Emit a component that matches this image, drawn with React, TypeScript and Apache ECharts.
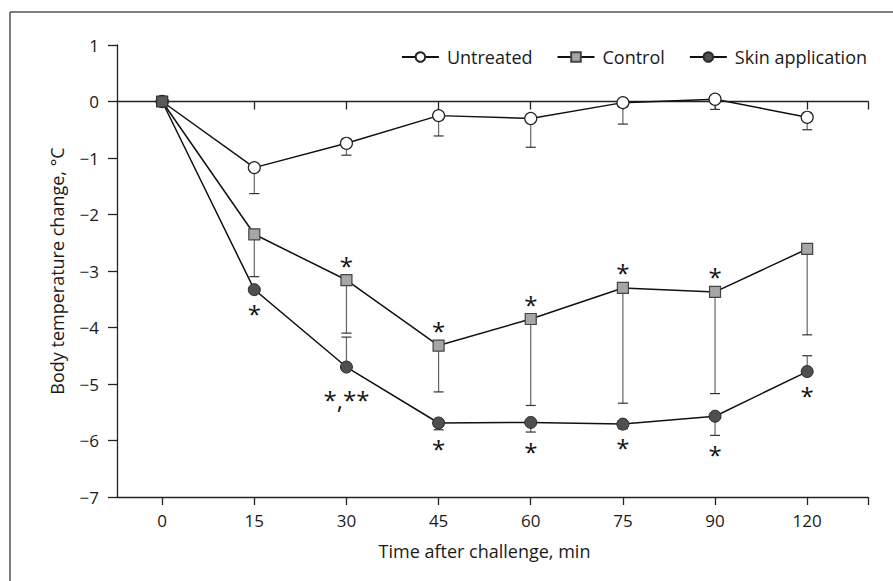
import React, { useEffect, useRef } from "react";
import * as echarts from "echarts";

const categories = ["0", "15", "30", "45", "60", "75", "90", "120"];
const untreated = [0, -1.17, -0.74, -0.25, -0.3, -0.02, 0.04, -0.28];
const control = [0, -2.35, -3.16, -4.32, -3.85, -3.3, -3.37, -2.61];
const skin = [0, -3.33, -4.7, -5.69, -5.68, -5.71, -5.57, -4.78];

// error bar ends (null = none visible)
const untreatedLow = [null, -1.63, -0.95, -0.61, -0.81, -0.4, -0.14, -0.5];
const controlLow = [null, -3.1, -4.1, -5.14, -5.38, -5.34, -5.17, -4.13];
const skinHigh = [null, null, -4.17, null, null, null, null, -4.5];
const skinLow = [null, null, null, -5.81, -5.85, -5.79, -5.91, null];

const controlMarks = ["", "", "*", "*", "*", "*", "*", ""];
const skinMarks = ["", "*", "*,**", "*", "*", "*", "*", "*"];

const yTicks = [-7, -6, -5, -4, -3, -2, -1, 0, 1];

const FONT = "'Open Sans', 'Noto Sans', sans-serif";
const TXT = "#1a1a1a";

export default function App() {
  const ref = useRef<HTMLDivElement>(null);
  useEffect(() => {
    if (!ref.current) return;
    const chart = echarts.init(ref.current, null, { renderer: "svg" });
    const idx = categories.map((_, i) => i);
    const xMin = -0.49;
    const xMax = 7.66;

    const errData: number[][] = [];
    const addErr = (vals: number[], ends: (number | null)[]) => {
      ends.forEach((e, i) => {
        if (e !== null) errData.push([i, vals[i], e]);
      });
    };
    addErr(untreated, untreatedLow);
    addErr(control, controlLow);
    addErr(skin, skinHigh);
    addErr(skin, skinLow);

    const marks: { i: number; anchor: number; dir: number; text: string }[] = [];
    controlMarks.forEach((t, i) => {
      if (t) marks.push({ i, anchor: control[i], dir: -1, text: t });
    });
    skinMarks.forEach((t, i) => {
      if (t) {
        const low = skinLow[i];
        marks.push({ i, anchor: low !== null ? Math.min(low, skin[i]) : skin[i], dir: low !== null ? 2 : 1, text: t });
      }
    });

    const fmtY = (v: number) => (v < 0 ? "\u2212" + Math.abs(v) : String(v));

    chart.setOption({
      animation: false,
      textStyle: { fontFamily: FONT },
      grid: { left: 117, right: 25, top: 45, bottom: 84 },
      legend: {
        data: ["Untreated", "Control", "Skin application"],
        right: 21,
        top: 43,
        itemWidth: 37,
        itemHeight: 12,
        itemGap: 24,
        textStyle: { fontSize: 18, color: TXT, fontFamily: FONT, padding: [0, 0, 0, 3] },
      },
      xAxis: [
        {
          type: "value",
          min: xMin,
          max: xMax,
          position: "bottom",
          axisLine: { onZero: false, lineStyle: { color: "#222", width: 1.3 } },
          axisTick: { show: true, length: 8, customValues: [...idx, xMax], lineStyle: { color: "#222", width: 1.3 } },
          axisLabel: {
            customValues: idx,
            formatter: (v: number) => categories[Math.round(v)],
            fontSize: 17,
            color: TXT,
            margin: 15,
            fontFamily: FONT,
          },
          splitLine: { show: false },
          name: "Time after challenge, min",
          nameLocation: "middle",
          nameGap: 45,
          nameTextStyle: { fontSize: 18, color: TXT, fontFamily: FONT, padding: [0, 16, 0, 0] },
        },
        {
          type: "value",
          min: xMin,
          max: xMax,
          position: "top",
          axisLine: { onZero: true, onZeroAxisIndex: 0, lineStyle: { color: "#222", width: 1.3 } },
          axisTick: { show: true, inside: true, length: 8, customValues: [...idx.slice(1), xMax], lineStyle: { color: "#222", width: 1.3 } },
          axisLabel: { show: false },
          splitLine: { show: false },
        },
      ],
      yAxis: {
        type: "value",
        min: -7,
        max: 1,
        interval: 1,
        axisLine: { show: true, onZero: false, lineStyle: { color: "#222", width: 1.3 } },
        axisTick: { show: true, length: 9, customValues: yTicks, lineStyle: { color: "#222", width: 1.3 } },
        axisLabel: { formatter: fmtY, fontSize: 17, color: TXT, margin: 18, fontFamily: FONT },
        splitLine: { show: false },
        name: "Body temperature change, \u00b0C",
        nameLocation: "middle",
        nameGap: 51,
        nameRotate: 90,
        nameTextStyle: { fontSize: 18, color: TXT, fontFamily: FONT },
      },
      graphic: [
        { type: "line", shape: { x1: 10, y1: 12, x2: 893, y2: 12 }, style: { stroke: "#555", lineWidth: 1.5 } },
        { type: "line", shape: { x1: 10, y1: 12, x2: 10, y2: 581 }, style: { stroke: "#555", lineWidth: 1.5 } },
      ],
      series: [
        {
          type: "custom",
          name: "errbars",
          xAxisIndex: 0,
          yAxisIndex: 0,
          z: 2,
          silent: true,
          encode: { x: 0, y: 1 },
          data: errData,
          renderItem: (params: any, api: any) => {
            const x = api.value(0);
            const p = api.coord([x, api.value(1)]);
            const q = api.coord([x, api.value(2)]);
            return {
              type: "group",
              children: [
                { type: "line", shape: { x1: p[0], y1: p[1], x2: q[0], y2: q[1] }, style: { stroke: "#666", lineWidth: 1.2 } },
                { type: "line", shape: { x1: q[0] - 5, y1: q[1], x2: q[0] + 5, y2: q[1] }, style: { stroke: "#333", lineWidth: 1.2 } },
              ],
            };
          },
        },
        {
          type: "line",
          name: "Untreated",
          z: 3,
          data: untreated.map((v, i) => [i, v]),
          symbol: "circle",
          symbolSize: 12,
          lineStyle: { color: "#111", width: 1.5 },
          itemStyle: { color: "#ffffff", borderColor: "#222", borderWidth: 1.2 },
        },
        {
          type: "line",
          name: "Skin application",
          z: 3,
          data: skin.map((v, i) => [i, v]),
          symbol: "circle",
          symbolSize: 12,
          lineStyle: { color: "#111", width: 1.5 },
          itemStyle: { color: "#4f4f4f", borderColor: "#2a2a2a", borderWidth: 1 },
        },
        {
          type: "line",
          name: "Control",
          z: 4,
          data: control.map((v, i) =>
            i === 0 ? { value: [i, v], itemStyle: { color: "#5a5a5a", borderColor: "#333" } } : [i, v]
          ),
          symbol: "rect",
          symbolSize: 11,
          lineStyle: { color: "#111", width: 1.5 },
          itemStyle: { color: "#a6a6a6", borderColor: "#444", borderWidth: 1.2 },
        },
        {
          type: "custom",
          name: "marks",
          z: 5,
          silent: true,
          encode: { x: 0, y: 1 },
          data: marks.map((m) => [m.i, m.anchor]),
          renderItem: (params: any, api: any) => {
            const m = marks[params.dataIndex];
            const p = api.coord([api.value(0), api.value(1)]);
            let dy = -15;
            if (m.dir === 1) dy = m.text.length > 1 ? 32 : 24;
            if (m.dir === 2) dy = 19;
            return {
              type: "text",
              x: p[0],
              y: p[1] + dy,
              style: {
                text: m.text,
                fill: "#111",
                fontSize: 24,
                fontFamily: FONT,
                align: "center",
                verticalAlign: "middle",
              },
            };
          },
        },
      ],
    });
    return () => chart.dispose();
  }, []);
  return (
    <div
      ref={ref}
      style={{ position: "fixed", left: 0, top: 0, width: 893, height: 581, background: "#fff" }}
    />
  );
}
